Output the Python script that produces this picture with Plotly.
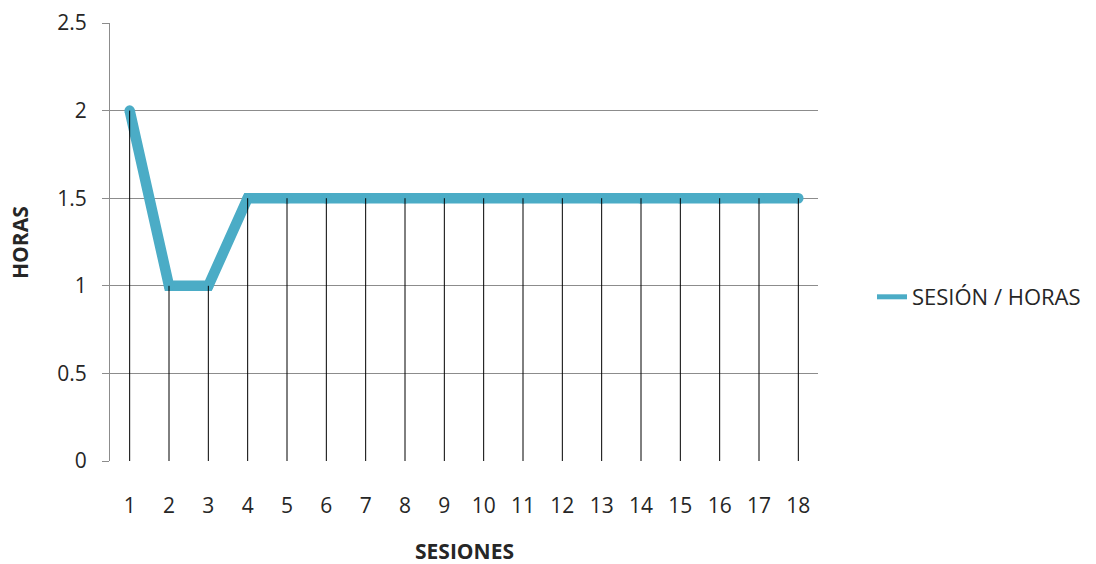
import plotly.graph_objects as go

sesiones = list(range(1, 19))
horas = [2, 1, 1, 1.5, 1.5, 1.5, 1.5, 1.5, 1.5, 1.5, 1.5, 1.5, 1.5, 1.5, 1.5, 1.5, 1.5, 1.5]
y_ticks = [0, 0.5, 1, 1.5, 2, 2.5]
y_labels = ["0", "0.5", "1", "1.5", "2", "2.5"]

LINE_COLOR = "#4BACC6"
FONT = "Open Sans"
TEXT_COLOR = "#262626"
FS = 21
W, H = 1096, 564

# drop lines from each point down to the category axis
drop_x, drop_y = [], []
for s, h in zip(sesiones, horas):
    drop_x += [s, s, None]
    drop_y += [h, 0, None]

fig = go.Figure()
fig.add_trace(go.Scatter(
    x=sesiones, y=horas, mode="lines+markers", name="SESIÓN / HORAS",
    line=dict(color=LINE_COLOR, width=10.5),
    marker=dict(color=LINE_COLOR, size=10.5),
    showlegend=False,
))
fig.add_trace(go.Scatter(
    x=drop_x, y=drop_y, mode="lines", line=dict(color="black", width=1),
    showlegend=False, hoverinfo="skip",
))
# legend entry
fig.add_trace(go.Scatter(
    x=[None], y=[None], mode="lines", name="SESIÓN / HORAS",
    line=dict(color=LINE_COLOR, width=5),
))

x0, x1 = 110 / W, 818 / W
y0, y1 = (H - 461) / H, (H - 23) / H

fig.update_layout(
    width=W, height=H,
    margin=dict(l=0, r=0, t=0, b=0, autoexpand=False),
    paper_bgcolor="white", plot_bgcolor="white",
    font=dict(family=FONT, size=FS, color=TEXT_COLOR),
    xaxis=dict(
        domain=[x0, x1], range=[0.5, 18.5], automargin=False,
        tickmode="array", tickvals=sesiones, ticktext=[str(s) for s in sesiones],
        showgrid=False, zeroline=False, showline=False,
        ticks="", ticklabelstandoff=30,
    ),
    yaxis=dict(
        domain=[y0, y1], range=[0, 2.5], automargin=False,
        tickmode="array", tickvals=y_ticks, ticktext=y_labels,
        showgrid=True, gridcolor="#8c8c8c", gridwidth=1,
        zeroline=False, showline=True, linecolor="#8c8c8c", linewidth=1,
        ticks="outside", ticklen=7, tickcolor="#8c8c8c",
        ticklabelstandoff=11,
    ),
    legend=dict(
        x=872 / W, y=(H - 297) / H, xanchor="left", yanchor="middle",
        font=dict(family=FONT, size=22, color=TEXT_COLOR),
        bgcolor="rgba(0,0,0,0)",
    ),
    showlegend=True,
    annotations=[
        dict(text="<b>HORAS</b>", x=20 / W, y=(H - 243) / H, xref="paper", yref="paper",
             xanchor="center", yanchor="middle",
             textangle=-90, showarrow=False, font=dict(family=FONT, size=FS, color=TEXT_COLOR)),
        dict(text="<b>SESIONES</b>", x=464 / W, y=(H - 551) / H, xref="paper", yref="paper",
             xanchor="center", yanchor="middle",
             showarrow=False, font=dict(family=FONT, size=FS, color=TEXT_COLOR)),
    ],
)

fig.write_html("out.html")
